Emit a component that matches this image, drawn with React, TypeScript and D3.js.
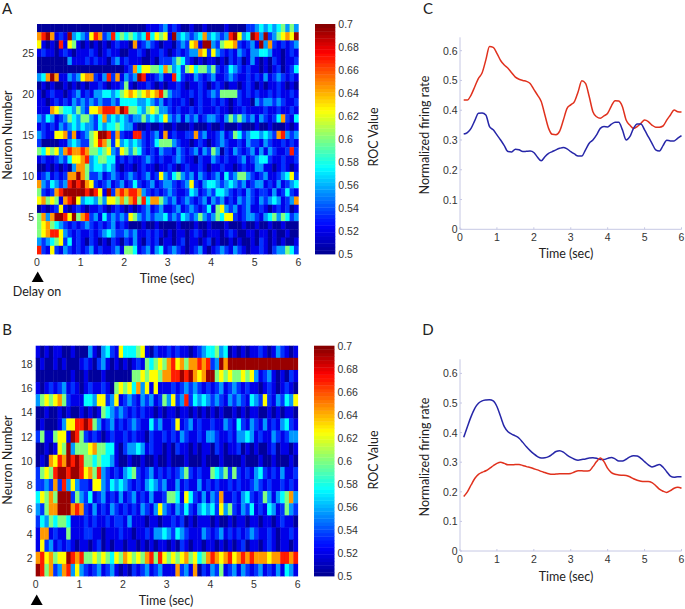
import * as d3 from 'd3';

// each string is one neuron (top row first), one digit per 0.1 s bin, index into rocLevels
const rocLevels = [0.503, 0.52, 0.535, 0.555, 0.575, 0.6, 0.625, 0.645, 0.67, 0.695];

const rowsA = [
  '0000000000 0000000000 0000011123 1210010010 0001000022 3434345353',
  '7897121934 3268723845 4543484656 1934323473 4323896349 8392356769',
  '6101081651 0101010121 1071232101 1023267199 3256672123 1937212123',
  '1211012101 1121012110 0112101121 0121233762 6321213213 3443110121',
  '0000000311 1212110231 2111001022 2354210101 1010212013 1010210112',
  '0000000000 0000000000 1274665547 5342564553 5212432121 1010120124',
  '3479711323 6772138271 3239811231 1842113212 3112321121 2131232121',
  '0101001010 1011210112 5101121010 1121011210 1210110121 0101121010',
  '1012110123 1213344345 6765676785 3221121212 3255552121 2112121121',
  '1101212132 3232322324 4443343231 2112101211 2121012110 3233232112',
  '1117654435 3266788879 8554356533 2121121211 1211011211 1121121121',
  '3243123543 5532473434 3233534346 3231323123 3213535323 1321247214',
  '1212132343 4332434454 3310010010 0100010001 0010001000 1001000101',
  '3211667271 2356998272 1188212317 1211227231 1231254234 4343278323',
  '2000011343 2256875263 4343212455 5321101210 1232112132 2132112121',
  '5465637877 8755456326 5354212132 2132123132 5302132123 1313211282',
  '1211232466 7834554412 1211232121 1232110211 3212112312 3442112112',
  '0010101037 7534434310 1101211011 2101211210 1121101211 3311012101',
  '1231212779 7522312321 2321231263 2453231321 2314235532 1231123462',
  '7324323898 9762123123 1242123123 3212362134 4323432312 3312131234',
  '5212789999 9898619278 7887321212 3211243123 2443212132 1221312421',
  '6756517896 3443536657 5785847753 2312321231 3231213232 1323431237',
  '0101261012 1011210121 0101231231 1231232124 1563231231 1210121201',
  '5737998695 7823142323 2653232334 2324323532 3546621233 2134535423',
  '5675432121 2321212312 1000100100 0010001001 0001000100 1001001000',
  '5678863212 1121234322 3231121210 1011012101 1101210011 0110100100',
  '3234562412 1021010210 2131021201 1012011012 0100101001 0210101001',
  '8216213212 1231211231 5541231341 2321012310 1232132101 1210233542',
];

const rowsB = [
  '1010110010 0031034216 4445610211 2121101234 4534010101 1210132101',
  '0100101000 1210231010 1012154565 7867577878 2397999999 9999999999',
  '0000000010 0100010000 0055656657 7889897679 9565655656 3123101021',
  '1012123121 0121121056 5647361611 1212323212 1231232121 1012101210',
  '3565675211 1443662361 2321323125 3623824343 2321323214 3262132436',
  '0010010100 1010154323 2121211010 1101101010 1010010101 1001010110',
  '0100013668 8985312312 1232114231 1261231211 2113214213 2131213421',
  '2511566198 5212101211 2121102112 1213211213 3211213343 1211321233',
  '0010165935 5567554410 2334312110 1021101011 0210112010 1001201101',
  '0107687989 8554544310 0100100100 1000100010 0010000100 0100100010',
  '2565899899 8675832121 3452123121 2123521211 5435252121 3421213112',
  '2232728363 2216632434 3212134323 1131211312 1211212112 3212112121',
  '4657599925 3241231213 1231213112 5541642131 3271121342 1253134573',
  '3257799978 7213121321 2121321363 2132421343 4263521324 1214312532',
  '2435455411 1212112122 1311101101 1212010111 0100101101 1011012110',
  '1771211511 1221101112 1101121334 3243211132 1231212123 2112101121',
  '1623121210 1101201011 0110101011 0102101101 1010101201 1012101101',
  '7867566987 8556565465 7656578586 5656756457 8767867878 7776778878',
  '9857237836 3212312310 1021231231 1172317021 3251231321 2312131431',
];

const neuronTicksA = [5, 10, 15, 20, 25];
const neuronTicksB = [2, 4, 6, 8, 10, 12, 14, 16, 18];
const timeTicks = [0, 1, 2, 3, 4, 5, 6];
const rocTicks = [0.5, 0.52, 0.54, 0.56, 0.58, 0.6, 0.62, 0.64, 0.66, 0.68, 0.7];
const rateTicks = [0, 0.1, 0.2, 0.3, 0.4, 0.5, 0.6];

const timeBins = d3.range(1, 61).map((i) => i / 10);

const redC = [
  0.434, 0.434, 0.451, 0.479, 0.507, 0.526, 0.569, 0.614, 0.611, 0.591,
  0.567, 0.552, 0.541, 0.526, 0.511, 0.504, 0.5, 0.497, 0.49, 0.47,
  0.451, 0.429, 0.384, 0.339, 0.319, 0.318, 0.33, 0.367, 0.406, 0.418,
  0.429, 0.462, 0.499, 0.49, 0.446, 0.395, 0.378, 0.373, 0.381, 0.39,
  0.414, 0.432, 0.431, 0.412, 0.367, 0.35, 0.339, 0.345, 0.356, 0.367,
  0.362, 0.35, 0.343, 0.343, 0.347, 0.367, 0.384, 0.401, 0.395, 0.394,
];
const blueC = [
  0.32, 0.325, 0.339, 0.365, 0.39, 0.391, 0.384, 0.345, 0.334, 0.317,
  0.3, 0.281, 0.261, 0.26, 0.269, 0.267, 0.261, 0.262, 0.263, 0.258,
  0.242, 0.23, 0.244, 0.255, 0.261, 0.267, 0.272, 0.275, 0.27, 0.261,
  0.253, 0.246, 0.246, 0.267, 0.289, 0.3, 0.317, 0.339, 0.345, 0.344,
  0.353, 0.36, 0.36, 0.334, 0.3, 0.311, 0.339, 0.354, 0.354, 0.334,
  0.311, 0.289, 0.267, 0.263, 0.281, 0.299, 0.297, 0.297, 0.306, 0.315,
];
const blueD = [
  0.384, 0.42, 0.454, 0.482, 0.499, 0.507, 0.51, 0.511, 0.507, 0.488,
  0.454, 0.42, 0.403, 0.395, 0.389, 0.381, 0.367, 0.352, 0.339, 0.328,
  0.319, 0.314, 0.315, 0.319, 0.327, 0.336, 0.339, 0.334, 0.324, 0.316,
  0.31, 0.307, 0.309, 0.311, 0.314, 0.315, 0.313, 0.309, 0.309, 0.313,
  0.316, 0.311, 0.304, 0.304, 0.31, 0.318, 0.322, 0.321, 0.313, 0.302,
  0.291, 0.284, 0.288, 0.292, 0.283, 0.268, 0.253, 0.249, 0.251, 0.251,
];
const redD = [
  0.184, 0.2, 0.223, 0.245, 0.259, 0.266, 0.271, 0.279, 0.288, 0.296,
  0.3, 0.296, 0.291, 0.291, 0.292, 0.292, 0.289, 0.285, 0.282, 0.278,
  0.274, 0.269, 0.265, 0.261, 0.259, 0.26, 0.261, 0.261, 0.261, 0.262,
  0.267, 0.271, 0.271, 0.27, 0.271, 0.285, 0.302, 0.314, 0.302, 0.279,
  0.265, 0.259, 0.257, 0.256, 0.255, 0.251, 0.244, 0.239, 0.236, 0.235,
  0.235, 0.231, 0.221, 0.209, 0.202, 0.198, 0.204, 0.212, 0.215, 0.212,
];

const jet = d3
  .scaleLinear<string>()
  .domain([0.5, 0.525, 0.575, 0.625, 0.675, 0.7])
  .range(['#00008f', '#0000ff', '#00ffff', '#ffff00', '#ff0000', '#800000'])
  .clamp(true);

const sans = '"Liberation Sans", Arial, sans-serif';
const label = 'Lato, "Open Sans", sans-serif';
const tickColor = '#333';

function Heatmap({
  rows,
  ticks,
  left,
  right,
  top,
  bottom,
  barLeft,
  barRight,
}: {
  rows: string[];
  ticks: number[];
  left: number;
  right: number;
  top: number;
  bottom: number;
  barLeft: number;
  barRight: number;
}) {
  const n = rows.length;
  const x = d3.scaleLinear().domain([0, 6]).range([left, right]);
  const y = d3.scaleLinear().domain([0.5, n + 0.5]).range([bottom, top]);
  const roc = d3.scaleLinear().domain([0.5, 0.7]).range([bottom, top]);
  const bands = d3.range(0.5, 0.7, 0.2 / 64);

  return (
    <g>
      <g filter="url(#soft)">
        {rows.map((row, r) =>
          row
            .replace(/\s/g, '')
            .split('')
            .map((d, c) => (
              <rect
                key={`${r}-${c}`}
                x={x(c / 10)}
                y={y(n - r + 0.5)}
                width={x(0.1) - x(0) + 0.4}
                height={y(1) - y(2) + 0.4}
                fill={jet(rocLevels[+d])}
              />
            )),
        )}
      </g>
      {ticks.map((t) => (
        <text key={t} x={left - 3} y={y(t) + 4} textAnchor="end" fontSize={10.5} fontFamily={sans} fill={tickColor}>
          {t}
        </text>
      ))}
      {timeTicks.map((t) => (
        <text key={t} x={x(t)} y={bottom + 12} textAnchor="middle" fontSize={10.5} fontFamily={sans} fill={tickColor}>
          {t}
        </text>
      ))}
      <g filter="url(#soft)">
        {bands.map((b) => (
          <rect
            key={b}
            x={barLeft}
            y={roc(b + 0.2 / 64)}
            width={barRight - barLeft}
            height={roc(b) - roc(b + 0.2 / 64) + 0.4}
            fill={jet(b + 0.1 / 64)}
          />
        ))}
      </g>
      {rocTicks.map((t) => (
        <text key={t} x={barRight + 3} y={roc(t) + 4} fontSize={10.5} fontFamily={sans} fill={tickColor}>
          {t}
        </text>
      ))}
    </g>
  );
}

function RatePanel({
  series,
  zeroY,
  tenthPx,
  axisTop,
}: {
  series: { values: number[]; color: string }[];
  zeroY: number;
  tenthPx: number;
  axisTop: number;
}) {
  const x = d3.scaleLinear().domain([0, 6]).range([460, 681.5]);
  const y = d3.scaleLinear().domain([0, 0.1]).range([zeroY, zeroY - tenthPx]);
  const line = d3
    .line<number>()
    .x((_, i) => x(timeBins[i]))
    .y((d) => y(d))
    .curve(d3.curveMonotoneX);

  return (
    <g>
      <line x1={x(0)} x2={x(0)} y1={axisTop} y2={zeroY} stroke="#c6c8e4" />
      <line x1={x(0)} x2={x(6)} y1={zeroY} y2={zeroY} stroke="#c6c8e4" />
      {timeTicks.map((t) => (
        <g key={t}>
          <line x1={x(t)} x2={x(t)} y1={zeroY} y2={zeroY - 2} stroke="#c6c8e4" />
          <text x={x(t)} y={zeroY + 12} textAnchor="middle" fontSize={10.5} fontFamily={sans} fill={tickColor}>
            {t}
          </text>
        </g>
      ))}
      {rateTicks.map((t) => (
        <g key={t}>
          <line x1={x(0)} x2={x(0) + 2} y1={y(t)} y2={y(t)} stroke="#c6c8e4" />
          <text x={x(0) - 2.5} y={y(t) + 4} textAnchor="end" fontSize={10.5} fontFamily={sans} fill={tickColor}>
            {t}
          </text>
        </g>
      ))}
      <g filter="url(#soft)">
        {series.map((s) => (
          <path key={s.color} d={line(s.values) || ''} fill="none" stroke={s.color} strokeWidth={1.5} />
        ))}
      </g>
    </g>
  );
}

function AxisText({ x, y, rotate, size = 12.5, children }: { x: number; y: number; rotate?: boolean; size?: number; children: string }) {
  return (
    <text
      x={x}
      y={y}
      textAnchor="middle"
      fontSize={size}
      fontFamily={label}
      fill="#222"
      transform={rotate ? `rotate(-90 ${x} ${y})` : undefined}
    >
      {children}
    </text>
  );
}

export default function App() {
  const triangle = d3.symbol(d3.symbolTriangle, 62)() || '';

  return (
    <svg width={685} height={609} style={{ position: 'absolute', left: 0, top: 0, background: '#fff' }}>
      <defs>
        <filter id="soft" x="-2%" y="-2%" width="104%" height="104%">
          <feGaussianBlur stdDeviation="0.55" />
        </filter>
      </defs>

      <Heatmap rows={rowsA} ticks={neuronTicksA} left={37} right={298.3} top={24} bottom={254} barLeft={315} barRight={335.3} />
      <Heatmap rows={rowsB} ticks={neuronTicksB} left={35.7} right={297.7} top={345.7} bottom={576} barLeft={314} barRight={334.5} />

      <RatePanel
        series={[
          { values: redC, color: '#e0301e' },
          { values: blueC, color: '#2626a8' },
        ]}
        zeroY={229.3}
        tenthPx={29.77}
        axisTop={37.3}
      />
      <RatePanel
        series={[
          { values: blueD, color: '#2626a8' },
          { values: redD, color: '#e0301e' },
        ]}
        zeroY={551}
        tenthPx={29.6}
        axisTop={359.3}
      />

      <path d={triangle} transform="translate(37.7 278.5)" fill="#000" />
      <path d={triangle} transform="translate(36.7 601.5)" fill="#000" />

      <AxisText x={7} y={14} size={15}>A</AxisText>
      <AxisText x={7} y={335} size={15}>B</AxisText>
      <AxisText x={428} y={14} size={15}>C</AxisText>
      <AxisText x={428} y={335} size={15}>D</AxisText>

      <AxisText x={37} y={296}>Delay on</AxisText>
      <AxisText x={167} y={283}>Time (sec)</AxisText>
      <AxisText x={166} y={605}>Time (sec)</AxisText>
      <AxisText x={566} y={258}>Time (sec)</AxisText>
      <AxisText x={566} y={581}>Time (sec)</AxisText>

      <AxisText x={12} y={135} rotate>Neuron Number</AxisText>
      <AxisText x={11.5} y={460} rotate>Neuron Number</AxisText>
      <AxisText x={429} y={135} rotate>Normalized firing rate</AxisText>
      <AxisText x={429} y={457} rotate>Normalized firing rate</AxisText>
      <AxisText x={378} y={137} rotate>ROC Value</AxisText>
      <AxisText x={378} y={460} rotate>ROC Value</AxisText>
    </svg>
  );
}
